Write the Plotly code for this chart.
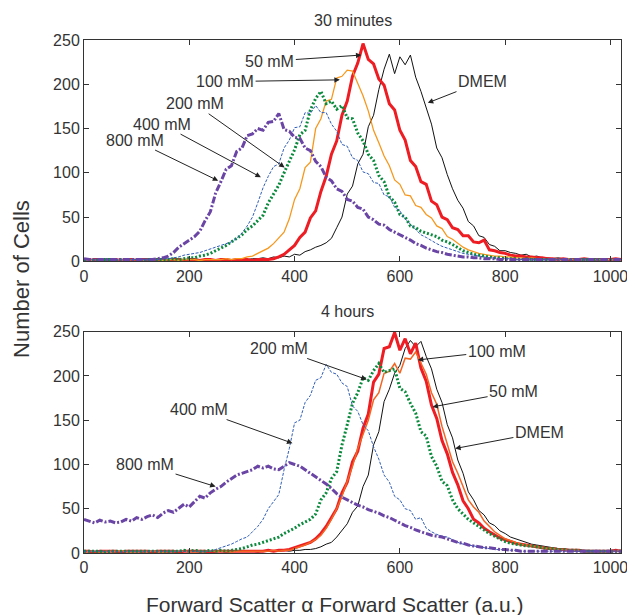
import plotly.graph_objects as go
from plotly.subplots import make_subplots

# Forward scatter channel (a.u.), sampled every 10 units
fsc = list(range(0, 1021, 10))

# ---- 30 minutes ----
m30_dmem = [3,2,2,1,2,2,1,2,2,1,
            2,2,1,2,2,1,2,2,1,2,
            2,1,2,2,2,1,2,2,2,2,
            3,2,3,3,4,3,5,4,6,5,
            8,7,11,13,16,18,21,26,38,50,
            76,85,110,121,152,165,194,217,234,212,
            231,222,233,208,192,172,155,128,117,98,
            82,69,60,45,40,29,27,19,17,12,
            12,10,9,7,8,5,6,4,4,3,
            4,3,2,3,2,2,3,2,2,2,
            2,1,2]
m30_50 = [2,1,2,2,1,2,2,1,2,2,
          1,2,2,1,2,2,1,2,2,1,
          2,2,1,2,2,1,2,2,1,2,
          2,2,1,2,2,2,3,5,8,13,
          18,27,33,49,57,79,96,121,136,165,
          181,209,224,246,228,223,206,199,178,171,
          148,137,114,107,90,87,68,64,50,47,
          38,36,29,29,22,21,24,13,12,10,
          9,7,6,6,5,5,4,4,3,3,
          2,3,2,2,2,3,2,2,2,2,
          2,3,2]
m30_100 = [2,1,2,2,1,2,2,2,1,2,
           2,1,2,2,2,1,2,2,1,2,
           2,2,1,2,2,2,2,3,2,3,
           3,5,6,9,12,15,20,26,33,48,
           70,82,106,112,150,161,181,183,207,209,
           216,215,201,187,170,148,134,119,108,92,
           87,75,74,63,61,53,49,40,37,28,
           25,20,16,13,11,9,8,7,6,6,
           5,5,4,4,3,4,3,3,2,3,
           2,2,3,2,2,2,2,2,2,2,
           2,2,2]
m30_200 = [2,2,1,2,2,2,1,2,2,2,
           2,1,2,2,2,2,2,3,2,3,
           4,4,6,7,9,12,15,18,22,26,
           30,36,40,46,52,66,76,86,100,114,
           126,143,148,171,184,192,178,181,172,176,
           162,161,145,136,121,114,97,90,73,67,
           53,50,40,38,34,32,30,28,24,22,
           19,15,12,10,8,7,6,5,4,4,
           3,3,3,2,3,2,2,2,2,2,
           2,2,2,2,2,2,2,2,2,2,
           2,2,2]
m30_400 = [2,2,2,1,2,2,2,2,1,2,
           2,2,2,2,2,3,3,4,5,7,
           8,9,10,12,14,16,18,20,22,26,
           32,40,50,66,83,96,107,110,128,137,
           151,152,168,167,176,168,168,155,147,132,
           130,117,114,101,99,89,88,75,73,61,
           57,48,42,36,30,27,23,20,17,15,
           13,11,9,8,7,6,5,4,4,3,
           3,3,2,2,3,2,2,2,2,2,
           2,2,2,2,2,2,2,2,2,2,
           2,2,2]
m30_800 = [3,2,2,2,2,2,2,2,2,2,
           2,2,2,2,3,4,6,10,16,20,
           24,28,34,46,56,77,90,104,108,124,
           128,142,144,150,148,157,158,167,149,147,
           140,139,128,125,113,107,95,91,82,79,
           70,68,61,59,50,47,42,41,36,33,
           30,27,24,20,18,15,13,11,10,8,
           7,6,5,5,4,4,3,3,3,2,
           2,2,2,2,2,2,2,2,2,2,
           2,2,2,2,2,2,2,2,2,2,
           2,2,2]

# ---- 4 hours ----
h4_dmem = [2,2,1,2,2,2,1,2,2,2,
           2,1,2,2,2,2,1,2,2,2,
           2,2,1,2,2,2,2,1,2,2,
           2,2,2,1,2,2,2,2,3,2,
           3,3,4,4,5,7,10,12,18,25,
           33,46,53,75,88,122,137,171,185,203,
           212,231,240,233,239,222,208,185,170,145,
           130,105,90,69,60,48,43,34,31,25,
           22,18,16,14,12,10,9,8,7,6,
           5,5,4,4,3,3,3,2,2,2,
           2,2,2]
h4_50 = [2,2,1,2,2,2,2,1,2,2,
         2,2,2,1,2,2,2,2,1,2,
         2,2,2,2,1,2,2,2,2,2,
         2,2,2,2,2,3,2,3,3,4,
         6,8,10,12,16,22,30,40,50,68,
         80,103,115,141,157,193,202,231,233,249,
         229,242,225,237,209,194,167,152,127,112,
         91,77,59,50,38,34,28,24,20,17,
         15,13,11,10,9,8,7,6,5,5,
         4,4,3,3,3,2,2,2,2,2,
         2,3,2]
h4_100 = [2,2,2,1,2,2,2,2,2,1,
          2,2,2,2,2,1,2,2,2,2,
          2,1,2,2,2,2,2,2,1,2,
          2,2,2,2,2,2,3,2,3,3,
          5,7,9,12,15,20,28,38,50,64,
          80,98,118,135,150,173,181,203,205,214,
          203,220,219,227,215,202,181,168,143,124,
          103,90,74,60,52,46,36,30,24,20,
          16,14,12,10,9,8,7,6,5,5,
          4,4,3,3,3,2,2,2,2,2,
          2,2,3]
h4_200 = [2,2,2,2,1,2,2,2,2,2,
          2,2,2,2,2,2,2,2,2,3,
          2,3,2,2,3,2,3,2,3,4,
          5,7,9,10,12,14,16,18,22,25,
          28,32,35,38,44,60,68,84,92,122,
          145,169,181,198,195,206,214,204,206,208,
          186,182,169,158,137,132,109,98,81,76,
          60,50,44,38,34,30,26,22,19,16,
          13,11,10,9,8,8,7,6,5,5,
          4,4,3,3,3,2,2,2,2,2,
          2,2,2]
h4_400 = [2,2,2,2,2,2,2,1,2,2,
          2,2,2,2,2,2,2,2,2,2,
          2,2,2,2,2,4,6,8,10,13,
          16,18,24,30,38,50,58,66,94,118,
          147,150,170,178,195,198,213,204,202,192,
          188,166,160,145,138,120,106,88,80,64,
          60,50,48,38,40,28,24,21,19,18,
          15,12,10,9,8,7,6,5,4,4,
          3,3,3,2,2,2,2,2,2,2,
          2,2,2,2,2,2,2,2,2,2,
          2,2,2]
h4_800 = [38,36,34,37,35,36,34,35,38,36,
          40,38,41,43,40,45,48,46,50,55,
          52,58,64,62,68,72,75,80,84,88,
          90,92,94,98,96,98,95,94,98,102,
          100,98,94,90,86,83,78,73,67,63,
          60,57,54,52,49,47,45,42,40,37,
          34,31,29,26,24,22,20,19,18,16,
          14,12,11,9,8,7,6,6,5,4,
          4,3,3,2,2,2,2,2,2,2,
          2,2,2,2,2,2,2,2,2,2,
          2,2,2]

labels = ["DMEM", "50 mM", "100 mM", "200 mM", "400 mM", "800 mM"]
top_series = [m30_dmem, m30_50, m30_100, m30_200, m30_400, m30_800]
bot_series = [h4_dmem, h4_50, h4_100, h4_200, h4_400, h4_800]

styles_top = [
    dict(color="#111111", width=1, dash="solid"),
    dict(color="#EE1D23", width=3, dash="solid"),
    dict(color="#F7981D", width=1.3, dash="solid"),
    dict(color="#0A8A3C", width=3, dash="2px,2px"),
    dict(color="#2F5DB8", width=1, dash="3px,1.5px"),
    dict(color="#6A45A6", width=3, dash="7px,2px,2px,2px"),
]
styles_bot = list(styles_top)
styles_bot[2] = dict(color="#F26522", width=1.5, dash="solid")

fig = make_subplots(rows=2, cols=1, vertical_spacing=0.137)

for row, series, styles in ((1, top_series, styles_top), (2, bot_series, styles_bot)):
    for name, ys, st in zip(labels, series, styles):
        fig.add_trace(go.Scatter(x=fsc, y=ys, mode="lines", name=name,
                                 line=st, showlegend=False), row=row, col=1)

axis_common = dict(range=[0, 1020], tickvals=[0, 200, 400, 600, 800, 1000],
                   ticks="inside", ticklen=5, tickcolor="#333", showgrid=False,
                   zeroline=False, showline=True, linecolor="#333", linewidth=1,
                   mirror="ticks", ticklabeloverflow="allow",
                   tickfont=dict(size=16, color="#333"))
yaxis_common = dict(range=[0, 250], tickvals=[0, 50, 100, 150, 200, 250],
                    ticks="inside", ticklen=5, tickcolor="#333", showgrid=False,
                    zeroline=False, showline=True, linecolor="#333", linewidth=1,
                    mirror="ticks", tickfont=dict(size=16, color="#333"))
fig.update_xaxes(**axis_common)
fig.update_yaxes(**yaxis_common)

annots_top = [  # (text, head_x, head_y, text_x, text_y)
    ("50 mM", 527, 233, 353, 226),
    ("100 mM", 486, 205, 268, 203),
    ("200 mM", 381, 106, 210, 178),
    ("400 mM", 336, 95, 148, 155),
    ("800 mM", 255, 91, 96, 137),
    ("DMEM", 653, 179, 756, 203),
]
annots_bot = [
    ("200 mM", 537, 196, 370, 231),
    ("100 mM", 634, 218, 784, 228),
    ("50 mM", 662, 165, 816, 182),
    ("DMEM", 705, 118, 865, 136),
    ("400 mM", 396, 124, 218, 162),
    ("800 mM", 250, 75, 116, 100),
]
for (xr, yr, lst) in (("x", "y", annots_top), ("x2", "y2", annots_bot)):
    for t, hx, hy, tx, ty in lst:
        fig.add_annotation(x=hx, y=hy, ax=tx, ay=ty, xref=xr, yref=yr,
                           axref=xr, ayref=yr, text=t, showarrow=True,
                           arrowhead=2, arrowsize=1.1, arrowwidth=1,
                           arrowcolor="#222", font=dict(size=16, color="#333"))

fig.add_annotation(text="30 minutes", xref="x domain", yref="y domain",
                   x=0.5, y=1.086, yanchor="middle", showarrow=False,
                   font=dict(size=16, color="#333"))
fig.add_annotation(text="4 hours", xref="x2 domain", yref="y2 domain",
                   x=0.49, y=1.09, yanchor="middle", showarrow=False,
                   font=dict(size=16, color="#333"))
fig.add_annotation(text="Number of Cells", xref="paper", yref="paper",
                   x=-0.1176, y=0.534, textangle=-90, showarrow=False,
                   xanchor="center", yanchor="middle",
                   font=dict(size=22, color="#333"))
fig.add_annotation(text="Forward Scatter α Forward Scatter (a.u.)", xref="paper",
                   yref="paper", x=0.467, y=-0.101, showarrow=False,
                   xanchor="center", yanchor="middle",
                   font=dict(size=21, color="#333"))

# page body has an 8px default margin; figure sized to fill the rest
fig.update_layout(width=627, height=607, plot_bgcolor="white", paper_bgcolor="white",
                  margin=dict(l=76, r=7, t=32, b=62),
                  font=dict(family="Liberation Sans, Arial, Helvetica, sans-serif"))

fig.write_html("out.html")
